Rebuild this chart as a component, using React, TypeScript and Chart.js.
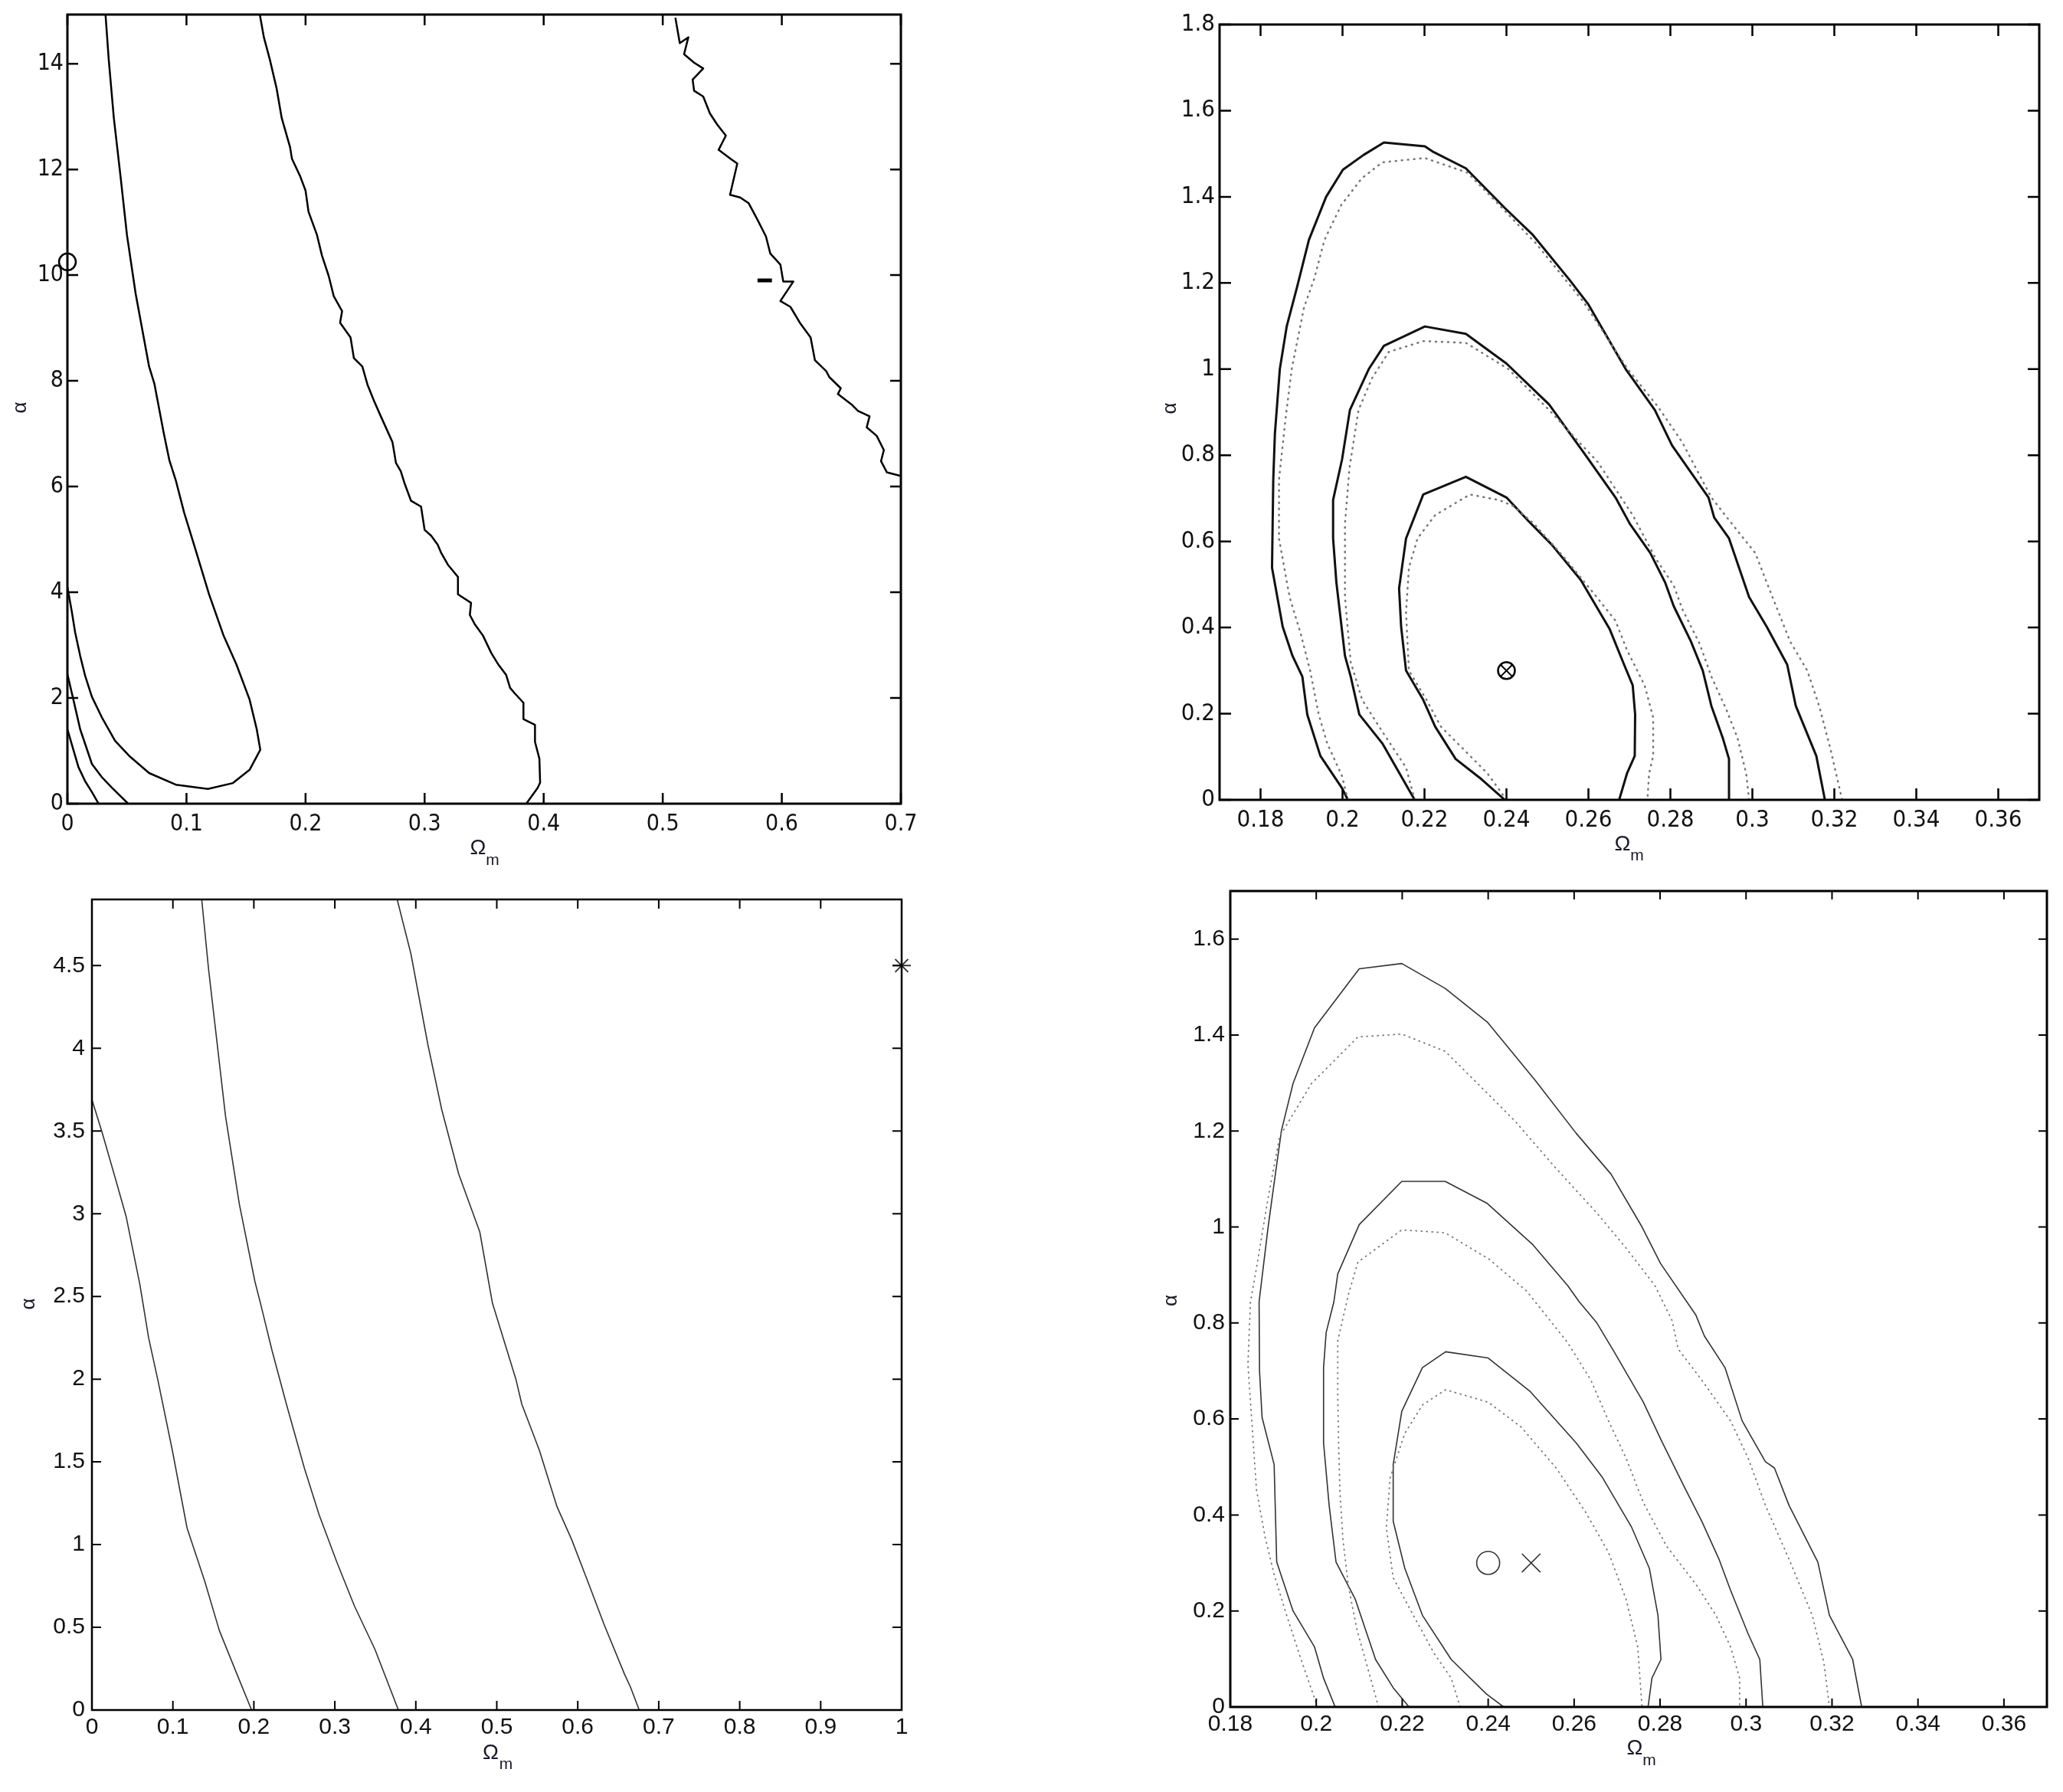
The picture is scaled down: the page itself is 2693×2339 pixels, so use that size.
import React, { useEffect, useRef } from "react";
import { Chart, registerables } from "chart.js";

Chart.register(...registerables);

// ---------------- Panel 1 (top-left) ----------------
const p1XTicks = [0, 0.1, 0.2, 0.3, 0.4, 0.5, 0.6, 0.7];
const p1YTicks = [0, 2, 4, 6, 8, 10, 12, 14];
const p1CurveA = [[0, 1.41], [0.005, 1.02], [0.0093, 0.69], [0.015, 0.42], [0.0206, 0.22], [0.0262, 0]];
const p1CurveB = [[0, 2.45], [0.005, 1.97], [0.0107, 1.41], [0.0206, 0.75], [0.029, 0.5], [0.0375, 0.3], [0.051, 0]];
const p1CurveC = [
  [0, 4.1], [0.0037, 3.63], [0.0065, 3.24], [0.0107, 2.8], [0.015, 2.41], [0.0206, 2.02], [0.029, 1.63],
  [0.04, 1.19], [0.0516, 0.91], [0.0686, 0.58], [0.091, 0.36], [0.118, 0.28], [0.139, 0.39], [0.153, 0.64],
  [0.162, 1.02], [0.159, 1.41], [0.153, 1.97], [0.142, 2.63], [0.131, 3.19], [0.119, 3.96], [0.107, 4.85],
  [0.098, 5.51], [0.091, 6.12], [0.0856, 6.5], [0.081, 7.0], [0.073, 7.95], [0.0686, 8.27], [0.0573, 9.65],
  [0.05, 10.76], [0.0446, 11.87], [0.039, 12.97], [0.0347, 14.08], [0.032, 14.93],
];
const p1CurveD = [
  [0.1616, 14.93], [0.165, 14.5], [0.17, 14.08], [0.1757, 13.53], [0.18, 12.97], [0.187, 12.42], [0.1886, 12.2],
  [0.1955, 11.87], [0.2, 11.6], [0.2025, 11.2], [0.2096, 10.76], [0.2138, 10.37], [0.2195, 9.98], [0.2237, 9.6],
  [0.2307, 9.32], [0.229, 9.1], [0.2378, 8.82], [0.2406, 8.43], [0.2477, 8.27], [0.252, 7.93], [0.2575, 7.62],
  [0.263, 7.34], [0.273, 6.84], [0.2759, 6.45], [0.28, 6.29], [0.283, 6.07], [0.2886, 5.73], [0.297, 5.62],
  [0.3, 5.18], [0.3055, 5.07], [0.311, 4.9], [0.314, 4.74], [0.3196, 4.52], [0.328, 4.29], [0.328, 3.96],
  [0.339, 3.8], [0.338, 3.57], [0.342, 3.4], [0.349, 3.18], [0.356, 2.85], [0.362, 2.63], [0.3684, 2.44],
  [0.3718, 2.19], [0.376, 2.08], [0.383, 1.91], [0.383, 1.6], [0.3927, 1.49], [0.3927, 1.17], [0.3964, 0.85],
  [0.397, 0.4], [0.395, 0.3], [0.3854, 0],
];
const p1CurveE = [
  [0.5106, 14.87], [0.5143, 14.39], [0.5215, 14.5], [0.5179, 14.18], [0.5263, 14.02], [0.534, 13.91],
  [0.5251, 13.7], [0.5263, 13.49], [0.534, 13.38], [0.5396, 13.06], [0.5457, 12.85], [0.553, 12.64],
  [0.5469, 12.37], [0.5565, 12.21], [0.5626, 12.11], [0.5565, 11.52], [0.565, 11.47], [0.5722, 11.36],
  [0.5795, 11.05], [0.5867, 10.73], [0.5903, 10.41], [0.5988, 10.2], [0.6012, 9.88], [0.6097, 9.88],
  [0.5988, 9.51], [0.6072, 9.4], [0.6157, 9.08], [0.6242, 8.82], [0.6278, 8.39], [0.6374, 8.18],
  [0.6399, 8.07], [0.6495, 7.86], [0.6471, 7.75], [0.6592, 7.54], [0.664, 7.43], [0.6737, 7.33],
  [0.6713, 7.12], [0.6797, 6.96], [0.6857, 6.69], [0.6833, 6.48], [0.6882, 6.27], [0.7, 6.2],
];
const p1Dash = [[0.5796, 9.9], [0.5917, 9.9]];
const p1Marker = [[0, 10.25]];

// ---------------- Panel 2 (top-right) ----------------
const p2XTicks = [0.18, 0.2, 0.22, 0.24, 0.26, 0.28, 0.3, 0.32, 0.34, 0.36];
const p2YTicks = [0, 0.2, 0.4, 0.6, 0.8, 1, 1.2, 1.4, 1.6, 1.8];
const p2OuterSolid = [
  [0.2013, 0], [0.1999, 0.027], [0.1946, 0.102], [0.1914, 0.198], [0.1902, 0.286], [0.1878, 0.334],
  [0.1854, 0.402], [0.1828, 0.539], [0.1831, 0.743], [0.1835, 0.85], [0.1847, 1.0], [0.1864, 1.1],
  [0.1889, 1.19], [0.1918, 1.3], [0.196, 1.4], [0.2001, 1.463], [0.2051, 1.497], [0.2101, 1.526],
  [0.2201, 1.517], [0.2222, 1.504], [0.2301, 1.466], [0.2396, 1.374], [0.2463, 1.313], [0.2554, 1.207],
  [0.26, 1.15], [0.2691, 1.0], [0.2762, 0.905], [0.2804, 0.823], [0.2893, 0.702], [0.2907, 0.655],
  [0.2943, 0.607], [0.2992, 0.471], [0.3035, 0.402], [0.3085, 0.314], [0.3106, 0.218], [0.3156, 0.102],
  [0.3177, 0],
];
const p2OuterDotted = [
  [0.2013, 0], [0.1999, 0.055], [0.1963, 0.13], [0.1942, 0.198], [0.1921, 0.3], [0.1897, 0.389],
  [0.1871, 0.47], [0.1845, 0.607], [0.1845, 0.743], [0.186, 0.877], [0.1876, 1.0], [0.1906, 1.143],
  [0.1931, 1.21], [0.1956, 1.3], [0.1997, 1.381], [0.2047, 1.443], [0.2097, 1.48], [0.2201, 1.49],
  [0.2305, 1.456], [0.2363, 1.4], [0.2471, 1.293], [0.2588, 1.156], [0.2696, 1.0], [0.2771, 0.911],
  [0.2829, 0.83], [0.29, 0.702], [0.295, 0.641], [0.3007, 0.573], [0.3049, 0.471], [0.3092, 0.368],
  [0.3134, 0.3], [0.3163, 0.218], [0.3191, 0.116], [0.3219, 0],
];
const p2MidSolid = [
  [0.2176, 0], [0.2098, 0.13], [0.2041, 0.198], [0.202, 0.286], [0.2006, 0.334], [0.1985, 0.505],
  [0.1977, 0.607], [0.1977, 0.696], [0.1999, 0.791], [0.2018, 0.905], [0.2064, 1.0], [0.2101, 1.054],
  [0.2201, 1.099], [0.2301, 1.082], [0.24, 1.013], [0.2504, 0.918], [0.2596, 0.796], [0.2666, 0.702],
  [0.2701, 0.641], [0.2751, 0.573], [0.2787, 0.505], [0.2808, 0.45], [0.285, 0.368], [0.2879, 0.3],
  [0.29, 0.218], [0.2928, 0.143], [0.2943, 0.095], [0.2943, 0],
];
const p2MidDotted = [
  [0.2176, 0], [0.2155, 0.075], [0.2098, 0.157], [0.2048, 0.232], [0.202, 0.32], [0.2006, 0.471],
  [0.2006, 0.641], [0.2017, 0.771], [0.2039, 0.905], [0.2072, 0.979], [0.2113, 1.04], [0.2197, 1.065],
  [0.2301, 1.061], [0.2405, 1.0], [0.2504, 0.905], [0.2623, 0.784], [0.2708, 0.661], [0.2765, 0.559],
  [0.2808, 0.498], [0.2829, 0.443], [0.2872, 0.361], [0.29, 0.286], [0.2936, 0.211], [0.2964, 0.143],
  [0.2985, 0.061], [0.2992, 0],
];
const p2InnerSolid = [
  [0.2396, 0], [0.2339, 0.048], [0.2276, 0.095], [0.2226, 0.17], [0.2197, 0.232], [0.2155, 0.3],
  [0.2143, 0.402], [0.2138, 0.491], [0.2155, 0.607], [0.2197, 0.709], [0.2301, 0.75], [0.24, 0.702],
  [0.2453, 0.648], [0.251, 0.593], [0.2581, 0.511], [0.2652, 0.396], [0.2687, 0.314], [0.2708, 0.266],
  [0.2714, 0.198], [0.2713, 0.102], [0.2694, 0.061], [0.2675, 0],
];
const p2InnerDotted = [
  [0.24, 0], [0.2354, 0.061], [0.2304, 0.109], [0.224, 0.17], [0.2205, 0.232], [0.2162, 0.3],
  [0.2155, 0.436], [0.2162, 0.539], [0.2183, 0.607], [0.2226, 0.661], [0.2311, 0.709], [0.2382, 0.696],
  [0.2417, 0.682], [0.2467, 0.641], [0.2538, 0.566], [0.2609, 0.484], [0.2666, 0.416], [0.2694, 0.348],
  [0.2737, 0.266], [0.2758, 0.191], [0.2758, 0.102], [0.2748, 0.061], [0.2744, 0],
];
const p2Marker = [[0.24, 0.3]];

// ---------------- Panel 3 (bottom-left) ----------------
const p3XTicks = [0, 0.1, 0.2, 0.3, 0.4, 0.5, 0.6, 0.7, 0.8, 0.9, 1];
const p3YTicks = [0, 0.5, 1, 1.5, 2, 2.5, 3, 3.5, 4, 4.5];
const p3Curve1 = [
  [0, 3.69], [0.0127, 3.49], [0.0297, 3.2], [0.0424, 2.98], [0.0593, 2.57], [0.07, 2.25], [0.0812, 2.0],
  [0.0993, 1.57], [0.1175, 1.1], [0.1392, 0.78], [0.1574, 0.48], [0.1791, 0.217], [0.1972, 0],
];
const p3Curve2 = [
  [0.1356, 4.9], [0.144, 4.48], [0.1525, 4.12], [0.165, 3.59], [0.182, 3.06], [0.2013, 2.59], [0.2081, 2.46],
  [0.2226, 2.17], [0.2407, 1.84], [0.2625, 1.46], [0.2806, 1.18], [0.3024, 0.895], [0.3241, 0.63],
  [0.3495, 0.367], [0.3785, 0],
];
const p3Curve3 = [
  [0.377, 4.9], [0.394, 4.57], [0.415, 4.02], [0.432, 3.63], [0.453, 3.24], [0.479, 2.89], [0.4946, 2.46],
  [0.5236, 2.0], [0.5308, 1.85], [0.5526, 1.57], [0.5743, 1.23], [0.5925, 1.03], [0.6106, 0.8],
  [0.6323, 0.52], [0.6577, 0.217], [0.665, 0.14], [0.6759, 0],
];
const p3Marker = [[1, 4.5]];

// ---------------- Panel 4 (bottom-right) ----------------
const p4XTicks = [0.18, 0.2, 0.22, 0.24, 0.26, 0.28, 0.3, 0.32, 0.34, 0.36];
const p4YTicks = [0, 0.2, 0.4, 0.6, 0.8, 1, 1.2, 1.4, 1.6];
const p4OuterSolid = [
  [0.2044, 0], [0.2017, 0.06], [0.1996, 0.125], [0.1946, 0.2], [0.1908, 0.302], [0.1902, 0.505],
  [0.1874, 0.603], [0.1868, 0.7], [0.1867, 0.844], [0.1874, 0.896], [0.1888, 1.0], [0.1901, 1.085],
  [0.1919, 1.201], [0.1946, 1.299], [0.1996, 1.415], [0.21, 1.538], [0.2199, 1.549], [0.23, 1.497],
  [0.2398, 1.427], [0.251, 1.305], [0.2605, 1.195], [0.2686, 1.11], [0.2758, 1.0], [0.2801, 0.924],
  [0.2883, 0.817], [0.2903, 0.773], [0.2951, 0.707], [0.2991, 0.596], [0.3045, 0.511], [0.3066, 0.498],
  [0.31, 0.42], [0.3167, 0.302], [0.3194, 0.191], [0.3248, 0.099], [0.3269, 0],
];
const p4OuterDotted = [
  [0.2003, 0], [0.1962, 0.106], [0.1929, 0.197], [0.1902, 0.276], [0.1881, 0.354], [0.1861, 0.452],
  [0.1851, 0.583], [0.1841, 0.714], [0.1847, 0.844], [0.1861, 0.915], [0.1888, 1.061], [0.1915, 1.189],
  [0.1989, 1.299], [0.2097, 1.396], [0.2199, 1.402], [0.23, 1.366], [0.2382, 1.293], [0.2463, 1.22],
  [0.2558, 1.122], [0.2652, 1.03], [0.272, 0.957], [0.2788, 0.878], [0.2828, 0.805], [0.2842, 0.746],
  [0.2897, 0.681], [0.2964, 0.596], [0.3005, 0.518], [0.3045, 0.42], [0.31, 0.308], [0.3154, 0.191],
  [0.3181, 0.093], [0.3194, 0],
];
const p4MidSolid = [
  [0.2216, 0], [0.2179, 0.04], [0.2138, 0.099], [0.2091, 0.224], [0.2046, 0.302], [0.203, 0.42],
  [0.2017, 0.55], [0.2017, 0.707], [0.2023, 0.78], [0.2041, 0.844], [0.205, 0.902], [0.21, 1.005],
  [0.2199, 1.095], [0.23, 1.095], [0.2398, 1.049], [0.2504, 0.963], [0.2585, 0.878], [0.2612, 0.844],
  [0.2653, 0.8], [0.2693, 0.74], [0.2761, 0.635], [0.2802, 0.557], [0.2856, 0.459], [0.2897, 0.387],
  [0.2937, 0.308], [0.2964, 0.243], [0.3005, 0.152], [0.3032, 0.099], [0.3039, 0],
];
const p4MidDotted = [
  [0.2145, 0], [0.212, 0.08], [0.2095, 0.16], [0.2075, 0.25], [0.2062, 0.35], [0.2055, 0.45],
  [0.2052, 0.55], [0.205, 0.65], [0.205, 0.763], [0.2075, 0.86], [0.2097, 0.927], [0.2199, 0.994],
  [0.23, 0.988], [0.2402, 0.933], [0.249, 0.866], [0.2585, 0.759], [0.2639, 0.681], [0.268, 0.596],
  [0.2721, 0.518], [0.2761, 0.426], [0.2815, 0.335], [0.2883, 0.256], [0.293, 0.191], [0.2964, 0.125],
  [0.2985, 0.06], [0.2985, 0],
];
const p4InnerSolid = [
  [0.2436, 0], [0.2396, 0.027], [0.2314, 0.099], [0.2247, 0.191], [0.2206, 0.289], [0.2179, 0.387],
  [0.2179, 0.505], [0.2199, 0.616], [0.2247, 0.707], [0.2301, 0.74], [0.24, 0.727], [0.2497, 0.658],
  [0.2605, 0.55], [0.2666, 0.478], [0.2734, 0.374], [0.2775, 0.289], [0.2795, 0.191], [0.2802, 0.099],
  [0.2781, 0.06], [0.2772, 0],
];
const p4InnerDotted = [
  [0.2335, 0], [0.2314, 0.06], [0.2274, 0.112], [0.2226, 0.191], [0.2179, 0.269], [0.2163, 0.374],
  [0.2172, 0.478], [0.2206, 0.57], [0.2247, 0.629], [0.2301, 0.661], [0.24, 0.635], [0.2477, 0.583],
  [0.2558, 0.498], [0.2626, 0.407], [0.268, 0.322], [0.2721, 0.224], [0.2748, 0.125], [0.2758, 0],
];
const p4Circle = [[0.24, 0.3]];
const p4Cross = [[0.25, 0.3]];

// ---------------- helpers ----------------
const NARROW = "'Liberation Sans Narrow', 'DejaVu Sans Condensed', 'Liberation Sans', sans-serif";
const SANS = "'Liberation Sans', Arial, sans-serif";

const pts = (a: number[][]) => a.map(([x, y]) => ({ x, y }));
const fmt = (v: number) => String(+Number(v).toFixed(4));

function line(data: number[][], color: string, width: number, dash?: number[]) {
  return {
    data: pts(data),
    showLine: true,
    borderColor: color,
    backgroundColor: color,
    borderWidth: width,
    borderDash: dash || [],
    borderCapStyle: dash ? "round" : "butt",
    borderJoinStyle: "round",
    pointRadius: 0,
    pointHoverRadius: 0,
    tension: 0,
    fill: false,
  };
}
function marker(data: number[][], style: string, r: number, color: string, w: number) {
  return {
    data: pts(data),
    showLine: false,
    pointStyle: style,
    pointRadius: r,
    pointHoverRadius: r,
    pointBorderColor: color,
    pointBackgroundColor: "rgba(0,0,0,0)",
    pointBorderWidth: w,
    clip: false,
  };
}

const decor = {
  id: "decor",
  afterDatasetsDraw(chart: any, _args: any, o: any) {
    const { ctx, chartArea } = chart;
    const { left, top, right, bottom } = chartArea;
    const xs = chart.scales.x;
    const ys = chart.scales.y;
    ctx.save();
    ctx.strokeStyle = "#000";
    ctx.lineWidth = o.tickWidth;
    ctx.beginPath();
    for (const t of xs.ticks) {
      const px = xs.getPixelForValue(t.value);
      ctx.moveTo(px, bottom);
      ctx.lineTo(px, bottom - o.tickLen);
      ctx.moveTo(px, top);
      ctx.lineTo(px, top + o.tickLen);
    }
    for (const t of ys.ticks) {
      const py = ys.getPixelForValue(t.value);
      ctx.moveTo(left, py);
      ctx.lineTo(left + o.tickLen, py);
      ctx.moveTo(right, py);
      ctx.lineTo(right - o.tickLen, py);
    }
    ctx.stroke();
    ctx.lineWidth = o.boxWidth;
    ctx.strokeRect(left, top, right - left, bottom - top);
    // axis titles
    ctx.fillStyle = "#1a1a2a";
    ctx.textAlign = "center";
    ctx.textBaseline = "middle";
    const cx = (left + right) / 2;
    ctx.font = `${o.omegaSize}px ${SANS}`;
    ctx.fillText("Ω", cx + o.omegaDx, bottom + o.omegaDy);
    ctx.font = `${o.subSize}px ${SANS}`;
    ctx.fillText("m", cx + o.mDx, bottom + o.mDy);
    ctx.save();
    ctx.translate(left + o.alphaDx, (top + bottom) / 2 + o.alphaDy);
    ctx.rotate(-Math.PI / 2);
    ctx.font = `${o.alphaSize}px ${SANS}`;
    ctx.fillText("α", 0, 0);
    ctx.restore();
    ctx.restore();
  },
};

type PanelCfg = {
  L: number; T: number; R: number; B: number;
  yw: number; padTop: number; padRight: number;
  xMin: number; xMax: number; yMin: number; yMax: number;
  xTicks: number[]; yTicks: number[];
  font: string; fontSize: number; xPad: number; yPad: number;
  datasets: any[];
  decor: any;
};

const XH = 110;

function Panel({ cfg }: { cfg: PanelCfg }) {
  const ref = useRef<HTMLCanvasElement>(null);
  const w = cfg.R - cfg.L + cfg.yw + cfg.padRight;
  const h = cfg.B - cfg.T + cfg.padTop + XH;
  useEffect(() => {
    if (!ref.current) return;
    const tickFont = { family: cfg.font, size: cfg.fontSize };
    const chart = new Chart(ref.current, {
      type: "scatter",
      data: { datasets: cfg.datasets },
      options: {
        animation: false,
        responsive: false,
        devicePixelRatio: 1,
        events: [],
        layout: { padding: { left: 0, top: cfg.padTop, right: cfg.padRight, bottom: 0 } },
        plugins: { legend: { display: false }, tooltip: { enabled: false }, decor: cfg.decor } as any,
        scales: {
          x: {
            type: "linear",
            min: cfg.xMin,
            max: cfg.xMax,
            grid: { display: false, drawTicks: false },
            border: { display: false },
            ticks: {
              padding: cfg.xPad,
              font: tickFont,
              color: "#111",
              autoSkip: false,
              maxRotation: 0,
              minRotation: 0,
              callback: (v: any) => fmt(v),
            },
            afterBuildTicks: (s: any) => {
              s.ticks = cfg.xTicks.map((v) => ({ value: v }));
            },
            afterFit: (s: any) => {
              s.height = XH;
            },
          },
          y: {
            type: "linear",
            min: cfg.yMin,
            max: cfg.yMax,
            grid: { display: false, drawTicks: false },
            border: { display: false },
            ticks: {
              padding: cfg.yPad,
              font: tickFont,
              color: "#111",
              autoSkip: false,
              callback: (v: any) => fmt(v),
            },
            afterBuildTicks: (s: any) => {
              s.ticks = cfg.yTicks.map((v) => ({ value: v }));
            },
            afterFit: (s: any) => {
              s.width = cfg.yw;
            },
          },
        },
      } as any,
      plugins: [decor as any],
    });
    return () => chart.destroy();
  }, []);
  return (
    <canvas
      ref={ref}
      width={w}
      height={h}
      style={{ position: "absolute", left: cfg.L - cfg.yw, top: cfg.T - cfg.padTop, width: w, height: h }}
    />
  );
}

const SOLID2 = "#111";
const DOT2 = "#777";

const panels: PanelCfg[] = [
  {
    L: 88, T: 19, R: 1176, B: 1049, yw: 85, padTop: 30, padRight: 40,
    xMin: 0, xMax: 0.7, yMin: 0, yMax: 14.93,
    xTicks: p1XTicks, yTicks: p1YTicks,
    font: NARROW, fontSize: 30, xPad: 9, yPad: 5,
    datasets: [
      line(p1CurveA, "#000", 2.5),
      line(p1CurveB, "#000", 2.5),
      line(p1CurveC, "#000", 2.5),
      line(p1CurveD, "#000", 2.5),
      line(p1CurveE, "#000", 2.5),
      line(p1Dash, "#000", 5),
      marker(p1Marker, "circle", 11, "#000", 2.5),
    ],
    decor: { tickLen: 14, tickWidth: 2.5, boxWidth: 3, omegaSize: 28, subSize: 21, omegaDx: -8, omegaDy: 58, mDx: 11, mDy: 74, alphaDx: -61, alphaDy: -2, alphaSize: 26 },
  },
  {
    L: 1592, T: 32, R: 2662, B: 1044, yw: 110, padTop: 30, padRight: 25,
    xMin: 0.17, xMax: 0.37, yMin: 0, yMax: 1.8,
    xTicks: p2XTicks, yTicks: p2YTicks,
    font: NARROW, fontSize: 31, xPad: 8, yPad: 6,
    datasets: [
      line(p2OuterDotted, DOT2, 2.5, [1, 7]),
      line(p2MidDotted, DOT2, 2.5, [1, 7]),
      line(p2InnerDotted, DOT2, 2.5, [1, 7]),
      line(p2OuterSolid, SOLID2, 3),
      line(p2MidSolid, SOLID2, 3),
      line(p2InnerSolid, SOLID2, 3),
      marker(p2Marker, "circle", 11, "#000", 2.5),
      marker(p2Marker, "crossRot", 11, "#000", 2),
    ],
    decor: { tickLen: 15, tickWidth: 2.5, boxWidth: 3, omegaSize: 28, subSize: 21, omegaDx: -9, omegaDy: 58, mDx: 10, mDy: 73, alphaDx: -64, alphaDy: -5, alphaSize: 26 },
  },
  {
    L: 120, T: 1174, R: 1177, B: 2232, yw: 110, padTop: 30, padRight: 40,
    xMin: 0, xMax: 1, yMin: 0, yMax: 4.9,
    xTicks: p3XTicks, yTicks: p3YTicks,
    font: SANS, fontSize: 30, xPad: 5, yPad: 9,
    datasets: [
      line(p3Curve1, "#333", 1.6),
      line(p3Curve2, "#333", 1.6),
      line(p3Curve3, "#333", 1.6),
      marker(p3Marker, "star", 12, "#333", 2),
    ],
    decor: { tickLen: 12, tickWidth: 2, boxWidth: 2.5, omegaSize: 28, subSize: 21, omegaDx: -8, omegaDy: 56, mDx: 12, mDy: 71, alphaDx: -82, alphaDy: -1, alphaSize: 26 },
  },
  {
    L: 1606, T: 1163, R: 2672, B: 2228, yw: 110, padTop: 30, padRight: 20,
    xMin: 0.18, xMax: 0.37, yMin: 0, yMax: 1.7,
    xTicks: p4XTicks, yTicks: p4YTicks,
    font: SANS, fontSize: 30, xPad: 5, yPad: 7,
    datasets: [
      line(p4OuterDotted, "#777", 1.8, [1, 6]),
      line(p4MidDotted, "#777", 1.8, [1, 6]),
      line(p4InnerDotted, "#777", 1.8, [1, 6]),
      line(p4OuterSolid, "#333", 1.6),
      line(p4MidSolid, "#333", 1.6),
      line(p4InnerSolid, "#333", 1.6),
      marker(p4Circle, "circle", 15, "#333", 1.6),
      marker(p4Cross, "crossRot", 17, "#333", 1.6),
    ],
    decor: { tickLen: 11, tickWidth: 2, boxWidth: 3, omegaSize: 28, subSize: 21, omegaDx: -5, omegaDy: 54, mDx: 14, mDy: 70, alphaDx: -77, alphaDy: 2, alphaSize: 26 },
  },
];

export default function App() {
  return (
    <div
      style={{
        position: "absolute",
        left: 0,
        top: 0,
        width: 2693,
        height: 2339,
        overflow: "hidden",
        background: "#fff",
      }}
    >
      {panels.map((p, i) => (
        <Panel key={i} cfg={p} />
      ))}
    </div>
  );
}
